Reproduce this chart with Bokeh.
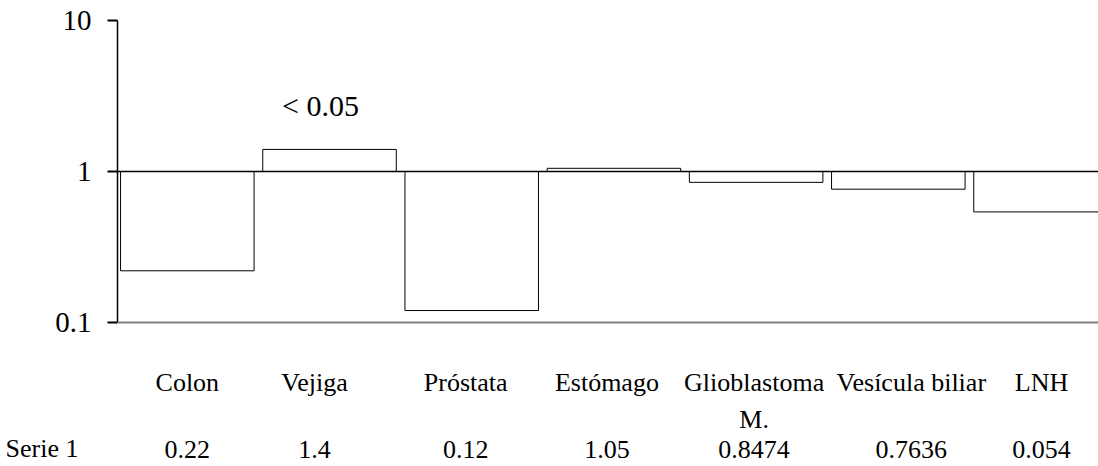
from bokeh.plotting import figure
from bokeh.layouts import column
from bokeh.models import Range1d, FixedTicker, Span, ColumnDataSource
from bokeh.core.properties import value
from bokeh.embed import file_html
from bokeh.resources import INLINE

# ---- data ----
categories = ["Colon", "Vejiga", "Próstata", "Estómago", "Glioblastoma\nM.", "Vesícula biliar", "LNH"]
bar_values = [0.22, 1.4, 0.12, 1.05, 0.8474, 0.7636, 0.54]
table_values = ["0.22", "1.4", "0.12", "1.05", "0.8474", "0.7636", "0.054"]
series_name = "Serie 1"
y_ticks = [0.1, 1, 10]
y_tick_labels = ["0.1", "1", "10"]
annotation = "< 0.05"
annotation_cat = 1

FONT = "Liberation Serif"

# ---- layout (pixel geometry) ----
W, H = 1098, 466
H1 = 340                      # chart part
H2 = H - H1                   # data-table part
FRAME_LEFT, FRAME_TOP = 117, 20
DECADE_PX = 151.0
CAT_PX = 142.2
x_start = -0.491
x_end = x_start + (W - FRAME_LEFT) / CAT_PX
# horizontal shift (px) of each data-table column relative to its bar
table_col_shift = [0, -15, -6, -7, -2, 13, 1]

def ydata(py):
    """pixel y (from top) -> data y on the log axis"""
    return 10 ** (1 - (py - FRAME_TOP) / DECADE_PX)

idx = list(range(len(categories)))
src = ColumnDataSource(dict(x=idx, top=bar_values, cat=categories, val=table_values,
                            dx=table_col_shift))

# ---------------- chart ----------------
p = figure(width=W, height=H1, y_axis_type="log",
           x_range=Range1d(x_start, x_end), y_range=Range1d(ydata(H1), 10),
           output_backend="svg", toolbar_location=None,
           min_border_left=FRAME_LEFT, min_border_right=0,
           min_border_top=FRAME_TOP, min_border_bottom=0)
p.outline_line_color = None
p.grid.visible = False
p.xaxis.visible = False
p.background_fill_color = "white"
p.border_fill_color = "white"

ax = p.yaxis[0]
ax.ticker = FixedTicker(ticks=y_ticks)
ax.major_label_overrides = {t: l for t, l in zip(y_ticks, y_tick_labels)}
ax.bounds = (min(y_ticks), max(y_ticks))
ax.axis_line_color = "black"
ax.axis_line_width = 1.5
ax.major_tick_line_color = "black"
ax.major_tick_line_width = 2
ax.major_tick_out = 10
ax.major_tick_in = 0
ax.minor_tick_line_color = None
ax.major_label_standoff = 16
ax.major_label_text_font = FONT
ax.major_label_text_font_size = "29px"
ax.major_label_text_color = "black"

p.vbar(x="x", top="top", bottom=1, width=0.939, source=src,
       fill_color="white", line_color="black", line_width=1)

p.add_layout(Span(location=1, dimension="width", line_color="black", line_width=1.5))
p.add_layout(Span(location=0.1, dimension="width", line_color="#808080", line_width=2))

p.text(x=[annotation_cat], y=[ydata(88)], text=[annotation], x_offset=-9,
       text_align="center", text_baseline="top",
       text_font=value(FONT), text_font_size="30px", text_color="black")

# ---------------- data table ----------------
ROW1_TOP = 367 - H1          # category row (top of text)
ROW2_MID = 449 - H1          # value row (middle of text)
HEADER_MID = ROW2_MID + 6    # row header tick (axis labels sit a bit higher)

t = figure(width=W, height=H2,
           x_range=Range1d(x_start, x_end), y_range=Range1d(H2, 0),
           output_backend="svg", toolbar_location=None,
           min_border_left=FRAME_LEFT, min_border_right=0, min_border_top=0, min_border_bottom=0)
t.outline_line_color = None
t.grid.visible = False
t.xaxis.visible = False
t.background_fill_color = "white"
t.border_fill_color = "white"

tax = t.yaxis[0]
tax.ticker = FixedTicker(ticks=[HEADER_MID])
tax.major_label_overrides = {HEADER_MID: series_name}
tax.axis_line_color = None
tax.major_tick_line_color = None
tax.minor_tick_line_color = None
tax.major_tick_out = 0
tax.major_tick_in = 0
tax.major_label_standoff = 39
tax.major_label_text_font = FONT
tax.major_label_text_font_size = "26px"
tax.major_label_text_color = "black"

t.text(x="x", y=ROW1_TOP, text="cat", x_offset="dx", source=src,
       text_align="center", text_baseline="top", text_line_height=1.3,
       text_font=value(FONT), text_font_size="26px", text_color="black")
t.text(x="x", y=ROW2_MID, text="val", x_offset="dx", source=src,
       text_align="center", text_baseline="middle",
       text_font=value(FONT), text_font_size="26px", text_color="black")

layout = column(p, t, spacing=0)
open("out.html", "w").write(file_html(layout, INLINE))
